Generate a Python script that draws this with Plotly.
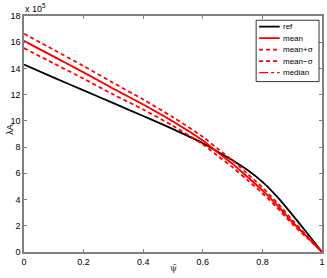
import plotly.graph_objects as go

psi = [0.0, 0.1, 0.2, 0.3, 0.4, 0.5, 0.6, 0.65, 0.7, 0.75, 0.8, 0.85, 0.9, 0.95, 1.0]
ref = [14.3, 13.3, 12.33, 11.35, 10.37, 9.37, 8.3, 7.65, 7.0, 6.25, 5.35, 4.2, 2.85, 1.45, 0.0]
mean = [16.1, 14.9, 13.7, 12.45, 11.25, 9.95, 8.5, 7.6, 6.72, 5.72, 4.7, 3.55, 2.3, 1.15, 0.0]
sigma = [0.55, 0.52, 0.48, 0.44, 0.38, 0.33, 0.29, 0.27, 0.26, 0.24, 0.22, 0.19, 0.15, 0.08, 0.0]
median = [16.1, 14.9, 13.7, 12.45, 11.25, 9.95, 8.5, 7.6, 6.72, 5.72, 4.7, 3.55, 2.3, 1.15, 0.0]

plus = [m + s for m, s in zip(mean, sigma)]
minus = [m - s for m, s in zip(mean, sigma)]

series = [
    ("ref", ref, dict(color="black", width=1.8)),
    ("mean", mean, dict(color="red", width=1.8)),
    ("mean+σ", plus, dict(color="red", width=1.8, dash="4px,3px")),
    ("mean−σ", minus, dict(color="red", width=1.8, dash="4px,3px")),
    ("median", median, dict(color="red", width=1.2, dash="dashdot")),
]

fig = go.Figure()
for name, ys, ln in series:
    fig.add_trace(go.Scatter(x=psi, y=ys, mode="lines", name=name,
                             line=dict(shape="spline", smoothing=0.8, **ln), showlegend=False))

axis_common = dict(
    showgrid=False, zeroline=False, showline=True, linecolor="#808080", linewidth=1.5,
    mirror="ticks", ticks="inside", ticklen=3, tickcolor="#808080", automargin=False,
    tickfont=dict(family="Liberation Sans", size=9, color="black"),
)
fig.update_xaxes(range=[0, 1], tickvals=[0, 0.2, 0.4, 0.6, 0.8, 1],
                 ticktext=["0", "0.2", "0.4", "0.6", "0.8", "1"], **axis_common)
fig.update_yaxes(range=[0, 18], tickvals=list(range(0, 19, 2)), **axis_common)

font9 = dict(family="Liberation Sans", size=9, color="black")
fig.add_annotation(text="x 10<sup>5</sup>", xref="paper", yref="paper", x=-0.003, y=1.0,
                   xanchor="left", yanchor="bottom", showarrow=False, font=font9)
fig.add_annotation(text="ψ̄", xref="paper", yref="paper", x=0.5, y=-0.068,
                   xanchor="center", yanchor="middle", showarrow=False,
                   font=dict(family="DejaVu Serif", size=9, color="#333"))
fig.add_annotation(text="λA", xref="paper", yref="paper", x=-0.045, y=0.52,
                   xanchor="center", yanchor="middle", textangle=-90, showarrow=False,
                   font=font9)

# manual compact legend (MATLAB style)
lx0, lx1, ly0, ly1 = 0.779, 0.990, 0.722, 0.982
fig.add_shape(type="rect", xref="paper", yref="paper", x0=lx0, x1=lx1, y0=ly0, y1=ly1,
              line=dict(color="black", width=0.8), fillcolor="white", layer="above")
seg0, seg1, tx = 0.789, 0.858, 0.862
row_top, row_step = 0.955, 0.0487
for i, (name, ys, ln) in enumerate(series):
    yy = row_top - i * row_step
    fig.add_shape(type="line", xref="paper", yref="paper", x0=seg0, x1=seg1, y0=yy, y1=yy,
                  line=ln, layer="above")
    fig.add_annotation(text=name, xref="paper", yref="paper", x=tx, y=yy,
                       xanchor="left", yanchor="middle", showarrow=False,
                       font=dict(family="Liberation Sans", size=8, color="black"))

fig.update_layout(
    width=327, height=278,
    margin=dict(l=24, r=5, t=16, b=26, autoexpand=False),
    plot_bgcolor="white", paper_bgcolor="white",
    showlegend=False,
)

fig.write_html("out.html", config={"displayModeBar": False},
               post_script="document.body.style.margin='0';")
